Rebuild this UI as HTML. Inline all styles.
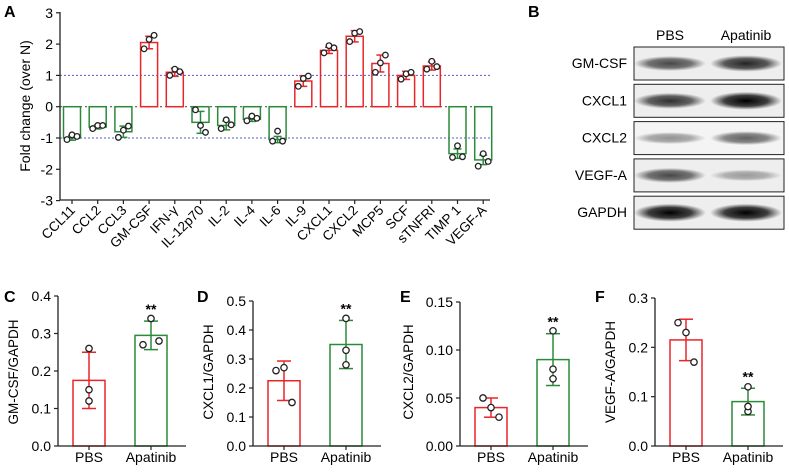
<!DOCTYPE html>
<html><head><meta charset="utf-8"><style>
body{margin:0;background:#fff;}
svg{display:block;font-family:"Liberation Sans",Arial,sans-serif;}
</style></head><body>
<svg id="fig" width="789" height="472" viewBox="0 0 789 472" xmlns="http://www.w3.org/2000/svg">
<defs>
<radialGradient id="band" cx="50%" cy="50%" r="50%"><stop offset="0" stop-color="#000" stop-opacity="1"/><stop offset="0.6" stop-color="#111" stop-opacity="0.8"/><stop offset="1" stop-color="#222" stop-opacity="0"/></radialGradient>
</defs>
</svg>
<script>
const aCats=["CCL11","CCL2","CCL3","GM-CSF","IFN-γ","IL-12p70","IL-2","IL-4","IL-6","IL-9","CXCL1","CXCL2","MCP5","SCF","sTNFRI","TIMP 1","VEGF-A"];
const aVals=[-1.0,-0.65,-0.8,2.05,1.1,-0.5,-0.6,-0.4,-1.05,0.82,1.8,2.25,1.38,1.0,1.3,-1.5,-1.7];
const aErr=[0.07,0.06,0.18,0.2,0.13,0.35,0.14,0.07,0.1,0.17,0.1,0.18,0.27,0.13,0.13,0.15,0.15];
const aPts=[[-1.05,-0.9,-0.95],[-0.7,-0.6,-0.6],[-0.98,-0.75,-0.62],[1.85,2.15,2.28],[1.0,1.2,1.12],[-0.1,-0.6,-0.82],[-0.7,-0.42,-0.58],[-0.45,-0.3,-0.37],[-1.1,-0.78,-1.1],[0.65,0.9,0.98],[1.72,1.95,1.88],[2.08,2.35,2.4],[1.1,1.4,1.65],[0.88,1.05,1.1],[1.2,1.45,1.28],[-1.62,-1.25,-1.6],[-1.9,-1.5,-1.75]];
const aTicks=[-3,-2,-1,0,1,2,3];
const bLabels=["GM-CSF","CXCL1","CXCL2","VEGF-A","GAPDH"];
const bPbs=[0.7,0.8,0.4,0.7,1.0];
const bApa=[0.85,1.0,0.6,0.35,1.0];
const subGroups=["PBS","Apatinib"];
const cMeans=[0.175,0.295],cErr=[0.075,0.038],cPts=[[0.26,0.15,0.12],[0.27,0.34,0.28]],cTicks=[0,0.1,0.2,0.3,0.4];
const dMeans=[0.225,0.35],dErr=[0.068,0.083],dPts=[[0.26,0.27,0.15],[0.44,0.33,0.28]],dTicks=[0,0.1,0.2,0.3,0.4,0.5];
const eMeans=[0.04,0.09],eErr=[0.01,0.027],ePts=[[0.05,0.04,0.03],[0.12,0.08,0.07]],eTicks=[0,0.05,0.10,0.15];
const fMeans=[0.215,0.09],fErr=[0.042,0.027],fPts=[[0.25,0.23,0.17],[0.12,0.07,0.08]],fTicks=[0,0.1,0.2,0.3];

const svg=document.getElementById('fig');const NS="http://www.w3.org/2000/svg";
function mk(tag,at,txt){const e=document.createElementNS(NS,tag);for(const k in at)e.setAttribute(k,at[k]);if(txt!==undefined)e.textContent=txt;svg.appendChild(e);return e;}
const RED="#e8262a",GRN="#2a8a3a";

// Panel A
const ay=v=>106.7-v*31.3, ax=i=>72+i*25.7;
let e=mk('text',{x:4,y:17,'font-size':16,'font-weight':'bold'},'A');

[1,-1].forEach(v=>{e=mk('line',{x1:60,x2:490,y1:ay(v),y2:ay(v),stroke:'#5b5bd0','stroke-width':1,'stroke-dasharray':'2,2'});});
e=mk('line',{x1:60,x2:490,y1:ay(0),y2:ay(0),stroke:'#555','stroke-width':1.2,'stroke-dasharray':'2,3'});
aVals.forEach((v,i)=>{const c=v>=0?RED:GRN;const x=ax(i);
 e=mk('rect',{x:x-8.5,y:Math.min(ay(v),ay(0)),width:17,height:Math.abs(ay(v)-ay(0)),fill:'none',stroke:c,'stroke-width':1.5});
 
 mk('line',{x1:x,x2:x,y1:ay(v-aErr[i]),y2:ay(v+aErr[i]),stroke:c,'stroke-width':1.5});
 mk('line',{x1:x-4,x2:x+4,y1:ay(v+aErr[i]),y2:ay(v+aErr[i]),stroke:c,'stroke-width':1.5});
 mk('line',{x1:x-4,x2:x+4,y1:ay(v-aErr[i]),y2:ay(v-aErr[i]),stroke:c,'stroke-width':1.5});
 aPts[i].forEach((p,j)=>{e=mk('circle',{cx:x+(j-1)*5,cy:ay(p),r:2.8,fill:'#fff',stroke:'#222','stroke-width':1.3});});
 e=mk('line',{x1:x,x2:x,y1:200,y2:204,stroke:'#222','stroke-width':1.2});
 e=mk('text',{x:x+4,y:211,'font-size':13.5,'text-anchor':'end',transform:`rotate(-45 ${x+4} 211)`},aCats[i]);
 
});
e=mk('line',{x1:60,x2:60,y1:12,y2:200,stroke:'#222','stroke-width':1.3});
e=mk('line',{x1:60,x2:490,y1:200,y2:200,stroke:'#222','stroke-width':1.3});
aTicks.forEach(t=>{mk('line',{x1:56,x2:60,y1:ay(t),y2:ay(t),stroke:'#222','stroke-width':1.2});
 e=mk('text',{x:53,y:ay(t)+5,'font-size':14,'text-anchor':'end'},String(t));});
e=mk('text',{x:30,y:106,'font-size':14,'text-anchor':'middle',transform:'rotate(-90 30 106)'},'Fold change (over N)');


// Panel B
e=mk('text',{x:528,y:17,'font-size':16,'font-weight':'bold'},'B');
e=mk('text',{x:670,y:40,'font-size':14,'text-anchor':'middle'},'PBS');
e=mk('text',{x:746,y:40,'font-size':14,'text-anchor':'middle'},'Apatinib');
bLabels.forEach((l,i)=>{const y0=47+i*37.3;
 e=mk('rect',{x:634,y:y0,width:150,height:33,fill:i==2?'#f4f4f4':'#eeeeee',stroke:'#222','stroke-width':1});
 
 [[670,bPbs[i]],[746,bApa[i]]].forEach(([cx,d])=>{e=mk('ellipse',{cx:cx,cy:y0+16.5,rx:36,ry:4+d*5,fill:'url(#band)',opacity:d});});
 e=mk('text',{x:627,y:y0+21,'font-size':14,'text-anchor':'end'},l);
});

// Sub panels
function sub(letter,lx,axX,yTop,maxV,means,err,pts,ticks,title,dec,starIdx){
 const y=v=>446-v/maxV*(446-yTop);const gx=[axX+31,axX+93];
 e=mk('text',{x:lx,y:302,'font-size':16,'font-weight':'bold'},letter);
 means.forEach((m,i)=>{const c=i==0?RED:GRN,x=gx[i];
  e=mk('rect',{x:x-16,y:y(m),width:32,height:446-y(m),fill:'none',stroke:c,'stroke-width':1.5});
  
  mk('line',{x1:x,x2:x,y1:y(m-err[i]),y2:y(m+err[i]),stroke:c,'stroke-width':1.5});
  mk('line',{x1:x-7,x2:x+7,y1:y(m+err[i]),y2:y(m+err[i]),stroke:c,'stroke-width':1.5});
  mk('line',{x1:x-7,x2:x+7,y1:y(m-err[i]),y2:y(m-err[i]),stroke:c,'stroke-width':1.5});
  const offs=pts[i][0]>m&&pts[i][1]<m?[0,0,0]:[-8,0,8];
  pts[i].forEach((p,j)=>{e=mk('circle',{cx:x+(offs[j]||0),cy:y(p),r:3.2,fill:'#fff',stroke:'#222','stroke-width':1.3});});
  e=mk('text',{x:x,y:462,'font-size':14,'text-anchor':'middle'},subGroups[i]);
  mk('line',{x1:x,x2:x,y1:446,y2:450,stroke:'#222','stroke-width':1.2});
 });
 const si=starIdx;e=mk('text',{x:gx[si],y:y(means[si]+err[si])-7,'font-size':14,'font-weight':'bold','text-anchor':'middle'},'**');
 
 e=mk('line',{x1:axX,x2:axX,y1:yTop,y2:446,stroke:'#222','stroke-width':1.3});
 e=mk('line',{x1:axX,x2:axX+128,y1:446,y2:446,stroke:'#222','stroke-width':1.3});
 ticks.forEach(t=>{mk('line',{x1:axX-4,x2:axX,y1:y(t),y2:y(t),stroke:'#222','stroke-width':1.2});
  e=mk('text',{x:axX-7,y:y(t)+5,'font-size':14,'text-anchor':'end'},t.toFixed(dec));});
 const tx=axX-(dec==2?47:40);
 e=mk('text',{x:tx,y:372,'font-size':13.5,'text-anchor':'middle',transform:`rotate(-90 ${tx} 372)`},title);
 
}
sub('C',4,58,296,0.4,cMeans,cErr,cPts,cTicks,'GM-CSF/GAPDH',1,1);
sub('D',197,253,301,0.5,dMeans,dErr,dPts,dTicks,'CXCL1/GAPDH',1,1);
sub('E',400,460,302,0.15,eMeans,eErr,ePts,eTicks,'CXCL2/GAPDH',2,1);
sub('F',595,655,298,0.3,fMeans,fErr,fPts,fTicks,'VEGF-A/GAPDH',1,1);
</script>
</body></html>
